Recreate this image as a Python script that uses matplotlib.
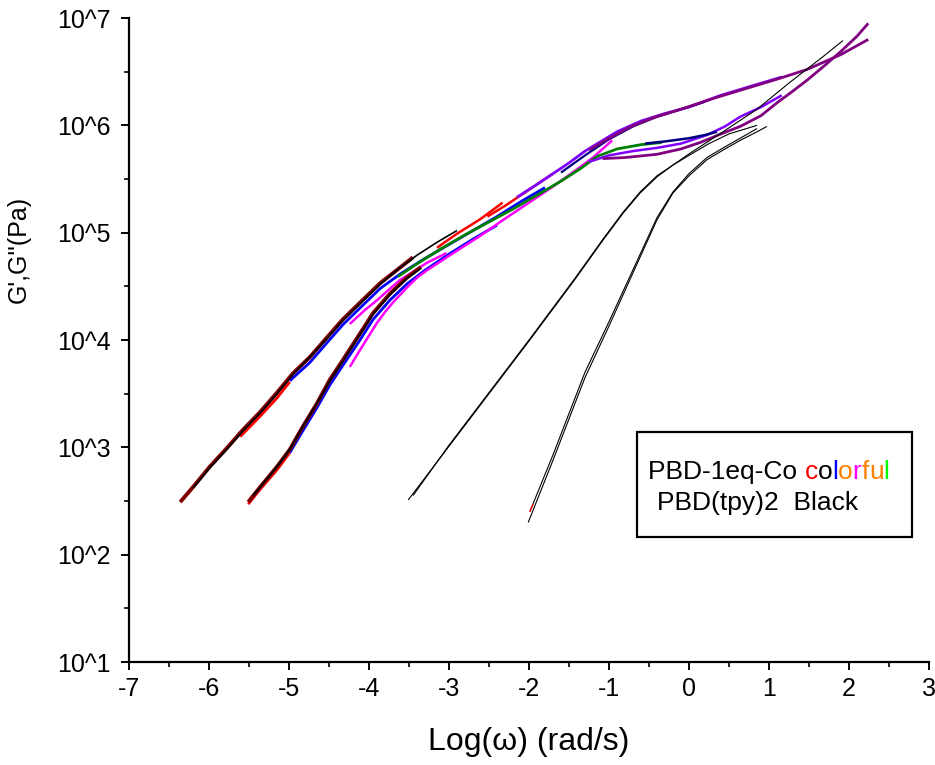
import numpy as np
import matplotlib
matplotlib.use("Agg")
import matplotlib.pyplot as plt
from matplotlib.ticker import FixedLocator, FixedFormatter

plt.rcParams['font.family'] = ['Liberation Sans', 'DejaVu Sans']

# ---- PBD-1eq-Co master-curve segments (x = log10 omega, y = log10 G in Pa) ----
# G'' branch (low-frequency start)
gpp_maroon_x = [-6.36, -6.2, -5.99, -5.78, -5.58, -5.36, -5.15, -4.95, -4.74, -4.53, -4.33, -4.11, -3.86, -3.62, -3.45]
gpp_maroon_y = [2.49, 2.63, 2.82, 2.99, 3.16, 3.33, 3.51, 3.69, 3.84, 4.02, 4.19, 4.35, 4.53, 4.67, 4.77]
gpp_black_x = [-6.2, -5.99, -5.78, -5.58, -5.36, -5.15, -4.95, -4.74, -4.53, -4.33, -4.11, -3.86, -3.62, -3.4, -3.15, -2.9]
gpp_black_y = [2.62, 2.81, 2.98, 3.15, 3.32, 3.50, 3.68, 3.84, 4.01, 4.18, 4.34, 4.52, 4.67, 4.79, 4.91, 5.02]
gpp_red_x = [-5.61, -5.36, -5.15, -4.99]
gpp_red_y = [3.10, 3.29, 3.46, 3.61]
gpp_blue_x = [-4.99, -4.74, -4.53, -4.33, -4.11, -3.86, -3.6, -3.3, -3.0, -2.7, -2.4, -2.1, -1.8]
gpp_blue_y = [3.62, 3.79, 3.97, 4.14, 4.30, 4.48, 4.62, 4.76, 4.89, 5.02, 5.15, 5.29, 5.42]
gpp_magenta_x = [-4.24, -4.05, -3.9, -3.75, -3.61, -3.44, -3.275, -3.03]
gpp_magenta_y = [4.15, 4.28, 4.37, 4.47, 4.56, 4.64, 4.72, 4.81]

# G' branch
gp_maroon_x = [-5.51, -5.36, -5.15, -4.99, -4.83, -4.65, -4.49, -4.33, -4.13, -3.95, -3.74, -3.53, -3.35]
gp_maroon_y = [2.49, 2.63, 2.82, 2.98, 3.19, 3.41, 3.63, 3.81, 4.04, 4.25, 4.43, 4.58, 4.68]
gp_black_x = [-5.45, -5.36, -5.15, -4.99, -4.83, -4.65, -4.49, -4.33, -4.13, -3.95, -3.74, -3.53, -3.35]
gp_black_y = [2.55, 2.63, 2.82, 2.98, 3.19, 3.41, 3.62, 3.80, 4.03, 4.24, 4.42, 4.57, 4.67]
gp_red_x = [-5.51, -5.36, -5.15, -4.99]
gp_red_y = [2.47, 2.61, 2.79, 2.95]
gp_blue_x = [-4.99, -4.83, -4.65, -4.49, -4.33, -4.13, -3.95, -3.74, -3.53, -3.3, -3.0, -2.7, -2.4]
gp_blue_y = [2.95, 3.15, 3.37, 3.58, 3.76, 3.98, 4.19, 4.37, 4.52, 4.65, 4.80, 4.94, 5.07]
gp_magenta_x = [-4.24, -4.11, -4.0, -3.9, -3.8, -3.7, -3.6, -3.525, -3.4, -3.275, -3.15, -3.03, -2.8, -2.61, -2.36, -2.0, -1.7, -1.4, -1.2, -0.96]
gp_magenta_y = [3.75, 3.91, 4.04, 4.16, 4.26, 4.35, 4.43, 4.49, 4.58, 4.65, 4.71, 4.77, 4.88, 4.97, 5.10, 5.28, 5.43, 5.59, 5.70, 5.86]

# overlap region and high-frequency segments
green_x = [-3.64, -3.4, -3.1, -2.8, -2.5, -2.2, -1.9, -1.6, -1.35, -1.15, -0.9, -0.6, -0.34]
green_y = [4.59, 4.71, 4.85, 4.98, 5.10, 5.22, 5.35, 5.48, 5.60, 5.71, 5.78, 5.82, 5.84]
red1_x = [-3.15, -2.9, -2.6, -2.33]
red1_y = [4.86, 4.99, 5.13, 5.28]
red2_x = [-2.52, -2.3, -2.1, -1.9, -1.7]
red2_y = [5.15, 5.25, 5.35, 5.45, 5.55]
violet_up_x = [-2.15, -1.9, -1.7, -1.5, -1.3, -1.1, -0.9, -0.6, -0.3, 0.0, 0.4, 0.8, 1.16]
violet_up_y = [5.33, 5.45, 5.55, 5.65, 5.76, 5.85, 5.94, 6.04, 6.11, 6.17, 6.28, 6.37, 6.45]
navy_up_x = [-1.6, -1.3, -1.0, -0.7, -0.4, -0.1, 0.2]
navy_up_y = [5.56, 5.72, 5.87, 5.99, 6.08, 6.15, 6.22]
purple_up_x = [-1.25, -1.0, -0.75, -0.45, -0.1, 0.3, 0.7, 1.1, 1.475, 1.9, 2.24]
purple_up_y = [5.77, 5.88, 5.98, 6.07, 6.15, 6.25, 6.34, 6.43, 6.52, 6.66, 6.80]
purple_lo_x = [-1.08, -0.8, -0.4, -0.1, 0.14, 0.4, 0.64, 0.9, 1.1, 1.3, 1.475, 1.7, 1.9, 2.1, 2.24]
purple_lo_y = [5.69, 5.70, 5.73, 5.78, 5.84, 5.92, 5.99, 6.09, 6.21, 6.32, 6.42, 6.56, 6.69, 6.83, 6.95]
violet_lo_x = [-1.25, -1.0, -0.7, -0.4, -0.1, 0.225, 0.45, 0.64, 0.9, 1.16]
violet_lo_y = [5.66, 5.72, 5.76, 5.79, 5.83, 5.91, 5.99, 6.08, 6.17, 6.28]
navy_lo_x = [-0.55, -0.3, 0.0, 0.2, 0.35]
navy_lo_y = [5.83, 5.85, 5.88, 5.91, 5.94]

# ---- PBD(tpy)2 curves ----
tpy_a1_x = [-3.51, -3.0, -2.5, -2.0, -1.43, -1.075, -0.825, -0.61, -0.4, -0.2, 0.0125, 0.425, 0.85, 1.26, 1.675, 1.925]
tpy_a1_y = [2.51, 3.01, 3.50, 3.99, 4.56, 4.93, 5.18, 5.37, 5.52, 5.63, 5.74, 5.94, 6.15, 6.40, 6.64, 6.79]
tpy_a2_x = [-3.45, -3.0, -2.5, -2.0, -1.43, -1.075, -0.825, -0.61, -0.4, -0.2, 0.0, 0.25, 0.5, 0.85]
tpy_a2_y = [2.55, 3.02, 3.51, 4.00, 4.57, 4.94, 5.19, 5.38, 5.53, 5.63, 5.72, 5.83, 5.92, 6.00]
tpy_b1_x = [-2.01, -1.7, -1.3, -1.0, -0.74, -0.4, -0.2, 0.0, 0.225, 0.45, 0.64, 0.85, 0.975]
tpy_b1_y = [2.30, 2.88, 3.65, 4.13, 4.56, 5.12, 5.37, 5.53, 5.68, 5.78, 5.86, 5.94, 5.99]
tpy_b2_x = [-1.99, -1.7, -1.3, -1.0, -0.74, -0.4, -0.2, 0.0, 0.225, 0.45, 0.64, 0.85]
tpy_b2_y = [2.40, 2.93, 3.70, 4.17, 4.59, 5.14, 5.38, 5.55, 5.70, 5.80, 5.88, 5.97]
tpy_tip_x = [-1.99, -1.95]
tpy_tip_y = [2.40, 2.47]

x_ticks = [-7, -6, -5, -4, -3, -2, -1, 0, 1, 2, 3]
y_exponents = [1, 2, 3, 4, 5, 6, 7]
y_tick_labels = ["10^1", "10^2", "10^3", "10^4", "10^5", "10^6", "10^7"]

MAROON, RED, BLUE, GREEN = "#800000", "#ff0000", "#0000ff", "#008000"
MAGENTA, VIOLET, NAVY, PURPLE = "#ff00ff", "#8000ff", "#000080", "#800080"

fig = plt.figure(figsize=(9.35, 7.65), dpi=100)
ax = fig.add_axes([129 / 935, 103 / 765, 800 / 935, 644 / 765])


def seg(xs, ys, color, lw):
    ax.plot(xs, 10.0 ** np.asarray(ys), color=color, lw=lw,
            solid_capstyle="butt", solid_joinstyle="round")


# coloured master-curve pieces (bottom layer first)
seg(gpp_blue_x, gpp_blue_y, BLUE, 2.0)
seg(gp_blue_x, gp_blue_y, BLUE, 2.0)
seg(gpp_red_x, gpp_red_y, RED, 2.0)
seg(gp_red_x, gp_red_y, RED, 2.0)
seg(gpp_magenta_x, gpp_magenta_y, MAGENTA, 1.8)
seg(gp_magenta_x, gp_magenta_y, MAGENTA, 1.8)
seg(green_x, green_y, GREEN, 2.0)
seg(gpp_maroon_x, gpp_maroon_y, MAROON, 2.8)
seg(gp_maroon_x, gp_maroon_y, MAROON, 2.8)
seg(gpp_black_x, gpp_black_y, "black", 1.2)
seg(gp_black_x, gp_black_y, "black", 1.2)
seg(red1_x, red1_y, RED, 1.8)
seg(red2_x, red2_y, RED, 1.8)
seg(violet_lo_x, violet_lo_y, VIOLET, 1.8)
seg(purple_lo_x, purple_lo_y, PURPLE, 2.0)
seg(navy_lo_x, navy_lo_y, NAVY, 1.8)
seg(violet_up_x, violet_up_y, VIOLET, 2.0)
seg(navy_up_x, navy_up_y, NAVY, 1.6)
seg(purple_up_x, purple_up_y, PURPLE, 2.0)

# PBD(tpy)2 thin black curves
for xs, ys in [(tpy_a1_x, tpy_a1_y), (tpy_a2_x, tpy_a2_y),
               (tpy_b1_x, tpy_b1_y), (tpy_b2_x, tpy_b2_y)]:
    seg(xs, ys, "black", 0.8)
seg(tpy_tip_x, tpy_tip_y, RED, 1.0)

# axes styling
ax.set_xlim(-7, 3)
ax.set_yscale("log")
ax.set_ylim(10 ** y_exponents[0], 10 ** y_exponents[-1])
ax.spines["top"].set_visible(False)
ax.spines["right"].set_visible(False)
for s in ("left", "bottom"):
    ax.spines[s].set_linewidth(1.6)

ax.xaxis.set_major_locator(FixedLocator(x_ticks))
ax.xaxis.set_minor_locator(FixedLocator(np.arange(-6.5, 3, 1.0)))
ax.set_xticklabels([str(t) for t in x_ticks])
ax.yaxis.set_major_locator(FixedLocator([10.0 ** e for e in y_exponents]))
ax.yaxis.set_major_formatter(FixedFormatter(y_tick_labels))
ax.yaxis.set_minor_locator(FixedLocator([10.0 ** (e + 0.5) for e in y_exponents[:-1]]))
ax.yaxis.set_minor_formatter(FixedFormatter([""] * 6))

ax.tick_params(which="major", direction="out", length=6, width=1.4, labelsize=18)
ax.tick_params(axis="y", which="major", pad=7)
ax.tick_params(axis="x", which="major", pad=5)
ax.tick_params(which="minor", direction="out", length=3.5, width=1.2)

ax.set_xlabel("Log(\u03c9) (rad/s)", fontsize=23)
ax.xaxis.label.set_va("center")
ax.xaxis.set_label_coords(0.5, -0.124)
ax.set_ylabel("G',G''(Pa)", fontsize=18)
ax.yaxis.label.set_va("center")
ax.yaxis.set_label_coords(-0.1375, 0.64)

# legend box with coloured lettering
box = plt.Rectangle((637 / 935, 1 - 537 / 765), (912 - 637) / 935, (537 - 432) / 765,
                    transform=fig.transFigure, fill=False, lw=1.6, edgecolor="black")
fig.patches.append(box)

LEG_FS = 19
t = fig.text(648 / 935, 1 - 472 / 765, "PBD-1eq-Co ", fontsize=LEG_FS, va="center", ha="left")
letters = ["c", "o", "l", "o", "r", "f", "u", "l"]
letter_colors = [RED, "black", BLUE, "#ff8000", MAGENTA, "#ff8000", "#ff8000", "#00ff00"]
prev = t
for ch, col in zip(letters, letter_colors):
    prev = ax.annotate(ch, xy=(1, 0), xycoords=prev, va="bottom", ha="left",
                       fontsize=LEG_FS, color=col, annotation_clip=False)
fig.text(657 / 935, 1 - 503 / 765, "PBD(tpy)2  Black", fontsize=LEG_FS, va="center", ha="left")

fig.savefig("out.png", dpi=100)
